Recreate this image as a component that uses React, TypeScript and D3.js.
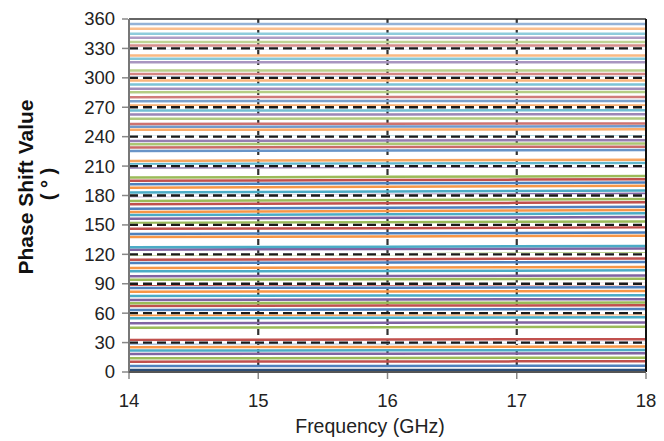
import React from "react";
import * as d3 from "d3";

// Frequency samples (GHz)
const freqs = [14, 16, 18];
// Phase state values read at 14 GHz (degrees)
const phaseAt14 = [
  2, 6, 10.5, 14, 18.4, 21.8, 25.2, 29.3, 32.7,
  45.2, 49.7, 54.8, 58.2, 63.3, 67.3, 70.1, 73.5, 77.6, 81.9,
  85.7, 89, 94.2, 97.6, 102.7, 106, 111.2, 114.6, 119.7, 124.8,
  127.2, 137.7, 140.8, 146, 152, 156.4, 160, 163.3, 166.6, 171,
  174.5, 179.6, 183, 188, 191.5, 195, 198.3, 208.5, 211.9, 215.3,
  225.5, 228.9, 232.3, 235.7, 239.8, 247, 250, 253, 258.2, 262.5,
  266.6, 271.7, 276.2, 280.3, 285.4, 288.8, 293.2, 297.2, 300.7, 304,
  307.4, 316, 319.4, 322.8, 329.6, 333, 336.5, 341, 345, 350, 355,
];
// Drift relative to 14 GHz, read at 16 GHz
const driftAt16 = [
  0, 0.2, 0.2, 0.3, 0.3, 0.3, 0.4, 0.4, 0.4,
  0.5, 0.5, 0.5, 0.5, 0.4, 0.4, 0.4, 0.4, 0.3, 0.3,
  0.3, 0.3, 0.4, 0.4, 0.4, 0.5, 0.5, 0.5, 0.5, 0.6,
  0.6, 0.6, 0.7, 0.7, 0.8, 0.8, 0.8, 0.9, 0.9, 1,
  1, 1, 1, 0.9, 0.9, 0.8, 0.8, 0.7, 0.7, 0.6,
  0.5, 0.5, 0.4, 0.4, 0.4, 0.3, 0.3, 0.3, 0.2, 0.2,
  0.2, 0.2, 0.1, 0.1, 0.1, 0.1, 0, 0, 0, 0,
  0, 0, 0, 0, 0, 0, 0, 0, 0, 0, 0,
];
// Drift relative to 14 GHz, read at 18 GHz
const driftAt18 = [
  0, 0.4, 0.5, 0.6, 0.6, 0.7, 0.7, 0.8, 0.8,
  0.9, 0.9, 1, 1, 0.9, 0.9, 0.8, 0.8, 0.7, 0.7,
  0.7, 0.8, 0.9, 0.9, 1, 1, 1.1, 1.1, 1.2, 1.2,
  1.3, 1.3, 1.4, 1.5, 1.6, 1.7, 1.8, 1.8, 1.9, 2,
  2, 2.1, 2, 1.9, 1.8, 1.6, 1.5, 1.3, 1.2, 1.1,
  1, 0.9, 0.8, 0.7, 0.6, 0.5, 0.5, 0.4, 0.4, 0.3,
  0.3, 0.2, 0.2, 0.2, 0.1, 0.1, 0.1, 0, 0, 0,
  0, 0, 0, 0, 0, 0, 0, 0, 0, 0, 0,
];
const idealPhases = [30, 60, 90, 120, 150, 180, 210, 240, 270, 300, 330];
const xTicks = [14, 15, 16, 17, 18];
const yTicks = [0, 30, 60, 90, 120, 150, 180, 210, 240, 270, 300, 330, 360];
const gridFreqs = [15, 16, 17];

const palette = ["#4F81BD", "#C0504D", "#9BBB59", "#8064A2", "#4BACC6", "#F79646"];

const W = 664;
const H = 441;
const left = 129;
const right = 646;
const top = 19;
const bottom = 372;

export default function App() {
  const x = d3.scaleLinear().domain([14, 18]).range([left, right]);
  const y = d3.scaleLinear().domain([0, 360]).range([bottom, top]);
  const line = d3
    .line<[number, number]>()
    .x((d) => x(d[0]))
    .y((d) => y(d[1]))
    .curve(d3.curveMonotoneX);

  const series = phaseAt14.map((p, i) => {
    const pts: [number, number][] = [
      [freqs[0], p],
      [freqs[1], p + driftAt16[i]],
      [freqs[2], p + driftAt18[i]],
    ];
    const base = i === 0 ? "#2C4D75" : palette[(i - 1) % 6];
    const t = p < 200 ? 0 : Math.min(0.4, 0.1 + ((p - 200) / 160) * 0.3);
    const color = d3.interpolateRgb(base, "#ffffff")(t);
    return { pts, color };
  });

  const font = "'Liberation Sans', Arial, sans-serif";

  return (
    <svg
      width={W}
      height={H}
      style={{ position: "absolute", left: 0, top: 0, background: "#fff" }}
    >
      <rect x={0} y={0} width={W} height={H} fill="#fff" />
      {/* vertical dashed grid */}
      {gridFreqs.map((f) => (
        <line
          key={"g" + f}
          x1={x(f)}
          x2={x(f)}
          y1={top}
          y2={bottom}
          stroke="#333"
          strokeWidth={2.2}
          strokeDasharray="6,4"
        />
      ))}
      {/* phase state lines */}
      {series.map((s, i) => (
        <path
          key={"s" + i}
          d={line(s.pts) || ""}
          fill="none"
          stroke={s.color}
          strokeWidth={2.5}
        />
      ))}
      {/* ideal phase dashed references */}
      {idealPhases.map((p) => (
        <g key={"i" + p}>
          <line x1={left} x2={right} y1={y(p)} y2={y(p)} stroke="#fff" strokeWidth={2.5} />
          <line
            x1={left}
            x2={right}
            y1={y(p)}
            y2={y(p)}
            stroke="#1a1a1a"
            strokeWidth={2.4}
            strokeDasharray="9,5"
          />
        </g>
      ))}
      {/* frame */}
      <line x1={left} x2={right} y1={top} y2={top} stroke="#333" strokeWidth={1.5} />
      <line x1={right} x2={right} y1={top} y2={bottom} stroke="#111" strokeWidth={2} />
      <line x1={left} x2={left} y1={top} y2={bottom + 1} stroke="#777" strokeWidth={2} />
      <line x1={left} x2={right} y1={bottom} y2={bottom} stroke="#555" strokeWidth={2} />
      {/* y ticks */}
      {yTicks.map((t) => (
        <g key={"yt" + t}>
          <line x1={left - 7} x2={left - 1} y1={y(t)} y2={y(t)} stroke="#888" strokeWidth={1.5} />
          <text
            x={left - 14}
            y={y(t)}
            dy="0.35em"
            textAnchor="end"
            fontFamily={font}
            fontSize={18.5}
            fill="#222"
          >
            {t}
          </text>
        </g>
      ))}
      {/* x ticks */}
      {xTicks.map((t) => (
        <g key={"xt" + t}>
          <line x1={x(t)} x2={x(t)} y1={bottom + 1} y2={bottom + 7} stroke="#888" strokeWidth={1.5} />
          <text
            x={x(t)}
            y={407}
            textAnchor="middle"
            fontFamily={font}
            fontSize={18.5}
            fill="#222"
          >
            {t}
          </text>
        </g>
      ))}
      <text
        x={370}
        y={433}
        textAnchor="middle"
        fontFamily={font}
        fontSize={19.5}
        fill="#222"
      >
        Frequency (GHz)
      </text>
      <text
        transform="translate(33,187) rotate(-90)"
        textAnchor="middle"
        fontFamily={font}
        fontSize={21}
        fontWeight="bold"
        fill="#111"
      >
        Phase Shift Value
      </text>
      <text
        transform="translate(55,184) rotate(-90)"
        textAnchor="middle"
        fontFamily={font}
        fontSize={20}
        fontWeight="bold"
        fill="#111"
      >
        ( ° )
      </text>
    </svg>
  );
}
